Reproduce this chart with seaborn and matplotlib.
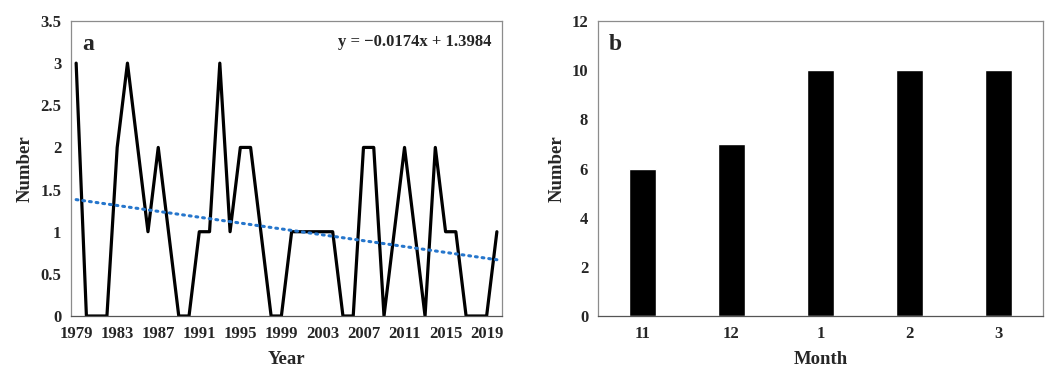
import numpy as np
import pandas as pd
import seaborn as sns
import matplotlib.pyplot as plt
from matplotlib.ticker import FuncFormatter

sns.set_theme(style='white')
plt.rcParams['font.family'] = ['Liberation Serif', 'DejaVu Serif']
plt.rcParams['font.weight'] = 'bold'

# panel a: yearly counts
years = list(range(1979, 2021))
counts = [3, 0, 0, 0, 2, 3, 2, 1, 2, 1,
          0, 0, 1, 1, 3, 1, 2, 2, 1, 0,
          0, 1, 1, 1, 1, 1, 0, 0, 2, 2,
          0, 1, 2, 1, 0, 2, 1, 1, 0, 0,
          0, 1]
slope, intercept = -0.0174, 1.3984  # excel trend line, x = 1..n

# panel b: monthly counts
months = ['11', '12', '1', '2', '3']
month_counts = [6, 7, 10, 10, 10]

fig = plt.figure(figsize=(10.52, 3.69), dpi=100)
ax1 = fig.add_axes([0.0675, 0.1436, 0.4097, 0.7995])
ax2 = fig.add_axes([0.5684, 0.1436, 0.4230, 0.7995])

linedf = pd.DataFrame({'year': years, 'count': counts})
sns.lineplot(data=linedf, x='year', y='count', ax=ax1, color='black', lw=2.3)
idx = np.arange(1, len(years) + 1)
ax1.plot(np.array(years), slope * idx + intercept, color='#2676CC', lw=2.2,
         linestyle=(0, (0.6, 1.6)), dash_capstyle='round')
ax1.set_xlim(1978.5, 2020.5)
ax1.set_ylim(0, 3.5)
ax1.set_xticks(range(1979, 2020, 4))
ax1.set_yticks(np.arange(0, 3.6, 0.5))
ax1.yaxis.set_major_formatter(FuncFormatter(lambda v, p: '%g' % v))
ax1.set_xlabel('Year', fontsize=13.5, fontweight='bold', labelpad=7)
ax1.set_ylabel('Number', fontsize=13.5, fontweight='bold', labelpad=5)
ax1.text(0.025, 0.955, 'a', transform=ax1.transAxes, fontsize=17, fontweight='bold', va='top')
ax1.text(0.975, 0.955, 'y = \u22120.0174x + 1.3984', transform=ax1.transAxes,
         fontsize=12, fontweight='bold', va='top', ha='right')

bardf = pd.DataFrame({'month': months, 'count': month_counts})
sns.barplot(data=bardf, x='month', y='count', order=months, ax=ax2, color='black',
            width=0.31, saturation=1)
ax2.set_ylim(0, 12)
ax2.set_yticks(range(0, 13, 2))
ax2.set_xlabel('Month', fontsize=13.5, fontweight='bold', labelpad=7)
ax2.set_ylabel('Number', fontsize=13.5, fontweight='bold', labelpad=4)
ax2.text(0.025, 0.955, 'b', transform=ax2.transAxes, fontsize=17, fontweight='bold', va='top')

for ax in (ax1, ax2):
    ax.tick_params(axis='both', length=0, labelsize=12, pad=7)
    for lab in ax.get_xticklabels() + ax.get_yticklabels():
        lab.set_fontweight('bold')
    for s in ax.spines.values():
        s.set_visible(True)
        s.set_color('#8c8c8c')
        s.set_linewidth(0.9)
    ax.spines['bottom'].set_color('#555555')

plt.savefig('out.png', dpi=100)
